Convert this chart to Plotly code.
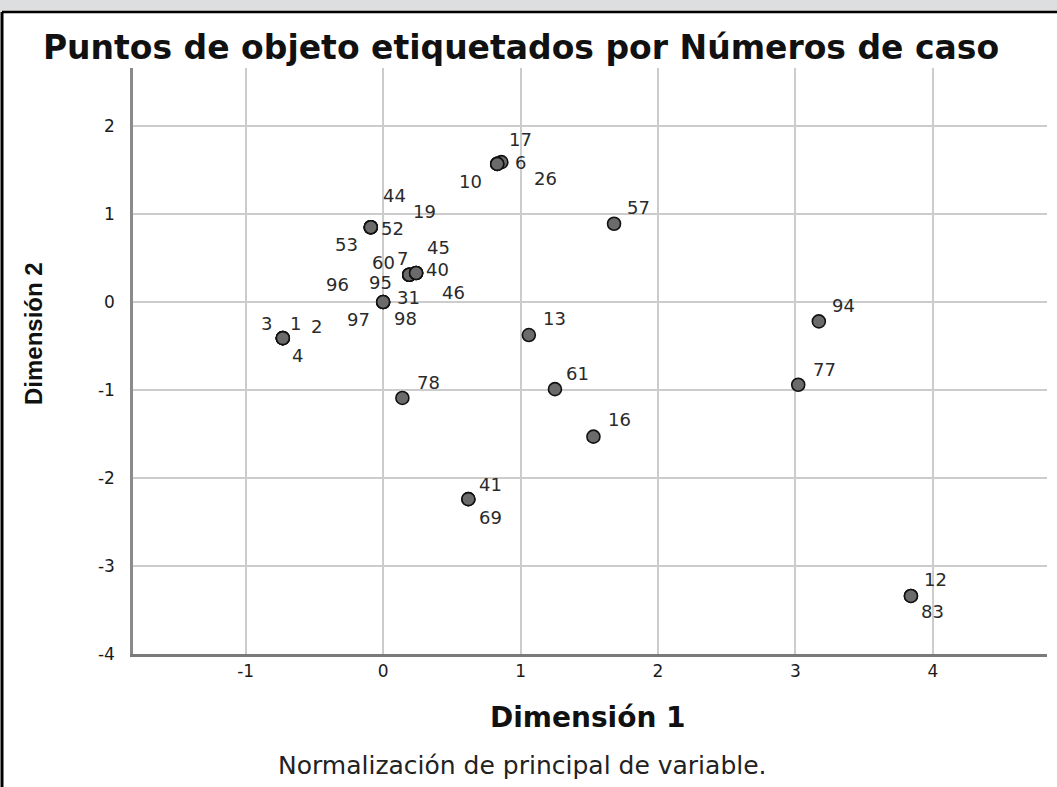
import plotly.graph_objects as go

# ---- data (object points, labelled by case number) ----
case_ids = ["17", "6", "10", "26", "44", "19", "52", "53", "60", "7", "96", "95",
            "45", "40", "46", "31", "97", "98", "3", "1", "2", "4", "78", "57",
            "13", "61", "16", "41", "69", "94", "77", "12", "83"]
dim1 = [0.83, 0.86, 0.83, 0.83, -0.09, -0.09, -0.09, -0.09, 0.19, 0.19, 0.19, 0.19,
        0.24, 0.24, 0.24, 0.0, 0.0, 0.0, -0.73, -0.73, -0.73, -0.73, 0.14, 1.68,
        1.06, 1.25, 1.53, 0.62, 0.62, 3.17, 3.02, 3.84, 3.84]
dim2 = [1.57, 1.59, 1.57, 1.57, 0.85, 0.85, 0.85, 0.85, 0.31, 0.31, 0.31, 0.31,
        0.33, 0.33, 0.33, 0.0, 0.0, 0.0, -0.41, -0.41, -0.41, -0.41, -1.09, 0.89,
        -0.375, -0.99, -1.53, -2.24, -2.24, -0.22, -0.94, -3.34, -3.34]
x_ticks = [-1, 0, 1, 2, 3, 4]
y_ticks = [-4, -3, -2, -1, 0, 1, 2]

title_text = "Puntos de objeto etiquetados por Números de caso"
x_title = "Dimensión 1"
y_title = "Dimensión 2"
footnote = "Normalización de principal de variable."

# ---- label offsets in pixels (layout only) ----
label_offsets = {
    "17": (23, 24), "6": (19, 0), "10": (-27, -18), "26": (48, -15),
    "44": (24, 32), "19": (54, 16), "52": (22, -1), "53": (-24, -17),
    "60": (-26, 12), "7": (-7, 16), "96": (-72, -10), "95": (-29, -8),
    "45": (22, 26), "40": (21, 4), "46": (37, -19),
    "31": (25, 5), "97": (-25, -17), "98": (22, -16),
    "3": (-16, 15), "1": (13, 15), "2": (34, 12), "4": (15, -17),
    "78": (26, 15), "57": (24, 16), "13": (26, 17), "61": (23, 16),
    "16": (26, 17), "41": (22, 15), "69": (22, -18), "94": (25, 16),
    "77": (26, 15), "12": (25, 16), "83": (22, -16),
}

W, H = 1057, 787
ML, MR, MT, MB = 133, 10, 68, 133
PW, PH = W - ML - MR, H - MT - MB


def px_to_paper(px, py):
    return (px - ML) / PW, (H - MB - py) / PH


fig = go.Figure()
fig.add_trace(go.Scatter(
    x=dim1, y=dim2, mode="markers",
    marker=dict(size=13, color="#6b6b6b", line=dict(color="#111111", width=1.6)),
    hoverinfo="text", text=case_ids, showlegend=False,
))

annotations = []
for cid, xv, yv in zip(case_ids, dim1, dim2):
    dx, dy = label_offsets[cid]
    annotations.append(dict(
        x=xv, y=yv, xref="x", yref="y", text=cid, showarrow=False,
        xshift=dx, yshift=dy, xanchor="center", yanchor="middle",
        font=dict(family="DejaVu Sans", size=18, color="#2a2a2a"),
    ))

# axis titles and footnote
ax, ay = px_to_paper(588, 717)
annotations.append(dict(x=ax, y=ay, xref="paper", yref="paper", text=x_title,
                        showarrow=False, xanchor="center", yanchor="middle",
                        font=dict(family="DejaVu Sans", size=28, color="#111111",
                                  weight="bold")))
bx, by = px_to_paper(33, 334)
annotations.append(dict(x=bx, y=by, xref="paper", yref="paper", text=y_title,
                        showarrow=False, xanchor="center", yanchor="middle",
                        textangle=-90,
                        font=dict(family="Liberation Sans", size=24, color="#111111",
                                  weight="bold")))
fx, fy = px_to_paper(522, 765)
annotations.append(dict(x=fx, y=fy, xref="paper", yref="paper", text=footnote,
                        showarrow=False, xanchor="center", yanchor="middle",
                        font=dict(family="DejaVu Sans", size=25, color="#222222")))

# frame decorations
shapes = []
x0p, _ = px_to_paper(0, 0)
x1p, _ = px_to_paper(W, 0)
_, ytop = px_to_paper(0, 0)
_, yline = px_to_paper(0, 12)
_, ybot = px_to_paper(0, H)
xl, _ = px_to_paper(2, 0)
shapes.append(dict(type="rect", xref="paper", yref="paper", x0=x0p, x1=x1p,
                   y0=yline, y1=ytop, fillcolor="#dcdee0", line=dict(width=0),
                   layer="above"))
shapes.append(dict(type="line", xref="paper", yref="paper", x0=xl, x1=x1p,
                   y0=yline, y1=yline, line=dict(color="#000000", width=2.5)))
shapes.append(dict(type="line", xref="paper", yref="paper", x0=xl, x1=xl,
                   y0=yline, y1=ybot, line=dict(color="#000000", width=3)))

fig.update_layout(
    width=W, height=H,
    margin=dict(l=ML, r=MR, t=MT, b=MB, pad=0),
    paper_bgcolor="white", plot_bgcolor="white",
    title=dict(text=title_text, x=521 / W, xref="container", xanchor="center",
               y=1 - 47 / H, yref="container", yanchor="middle",
               font=dict(family="DejaVu Sans", size=33, color="#111111", weight="bold")),
    xaxis=dict(range=[-1.82, 4.83], tickvals=x_ticks, ticktext=[str(v) for v in x_ticks],
               showgrid=True, gridcolor="#cccccc", gridwidth=2, zeroline=False,
               showline=True, linecolor="#7a7a7a", linewidth=3, ticks="",
               tickfont=dict(family="DejaVu Sans", size=17, color="#1a1a1a")),
    yaxis=dict(range=[-4.0, 2.66], tickvals=y_ticks, ticktext=[str(v) for v in y_ticks],
               showgrid=True, gridcolor="#cccccc", gridwidth=2, zeroline=False,
               showline=True, linecolor="#8a8a8a", linewidth=2.5, ticks="",
               ticklabelstandoff=12,
               tickfont=dict(family="DejaVu Sans", size=17, color="#1a1a1a")),
    annotations=annotations,
    shapes=shapes,
    showlegend=False,
)

fig.write_html(
    "out.html",
    config={"displayModeBar": False},
    post_script="document.body.style.margin='0';document.body.style.overflow='hidden';",
)
